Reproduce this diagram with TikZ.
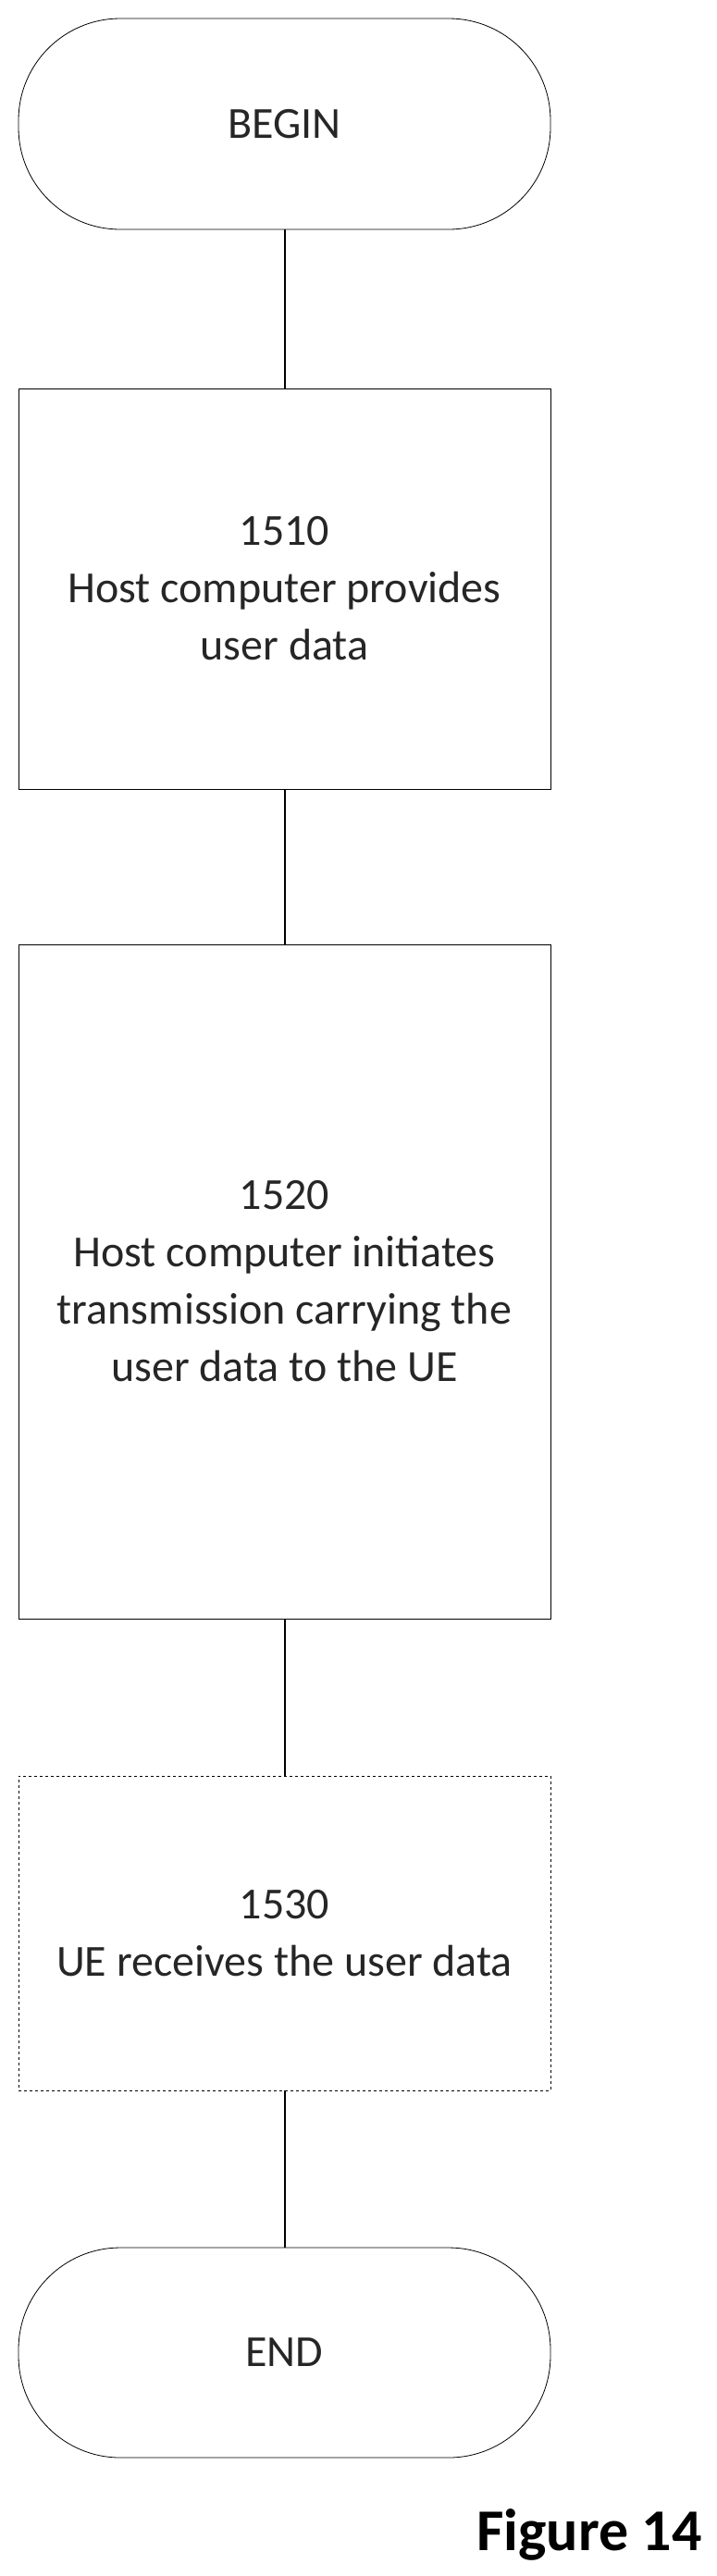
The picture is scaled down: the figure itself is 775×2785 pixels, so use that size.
\documentclass[tikz,border=0pt]{standalone}
\usepackage{fontspec}
\setmainfont{Carlito}
\begin{document}
\begin{tikzpicture}[x=1pt,y=-1pt,
  txt/.style={align=center,font=\fontsize{48}{62}\selectfont,text=black!85},
  term/.style={draw,line width=0.8pt,rounded corners=110pt,minimum width=575pt,txt},
  stepbox/.style={draw,line width=0.8pt,minimum width=575pt,txt},
  conn/.style={line width=2pt}]
\useasboundingbox (0,0) rectangle (775,2785);
\node[term,minimum height=228pt] (begin) at (307.5,134) {BEGIN};
\node[stepbox,minimum height=433pt] (s1) at (307.5,636.5) {1510\\Host computer provides\\user data};
\node[stepbox,minimum height=729pt] (s2) at (307.5,1385.5) {1520\\Host computer initiates\\transmission carrying the\\user data to the UE};
\node[stepbox,dashed,minimum height=340pt] (s3) at (307.5,2090) {1530\\UE receives the user data};
\node[term,minimum height=227pt] (end) at (307.5,2543.5) {END};
\node[font=\fontsize{64}{64}\selectfont\bfseries] (fig) at (637,2740) {Figure 14};
\draw[conn] (begin) -- (s1);
\draw[conn] (s1) -- (s2);
\draw[conn] (s2) -- (s3);
\draw[conn] (s3) -- (end);
\end{tikzpicture}
\end{document}
